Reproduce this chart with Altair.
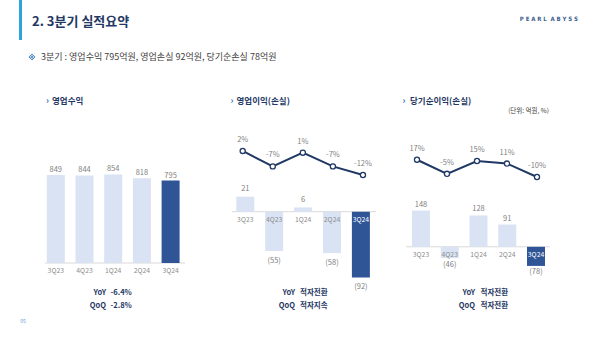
import altair as alt
import pandas as pd

# ---------------- data ----------------
quarters = ["3Q23", "4Q23", "1Q24", "2Q24", "3Q24"]
revenue = [849, 844, 854, 818, 795]
op_income = [21, -55, 6, -58, -92]
op_margin = [2, -7, 1, -7, -12]
net_income = [148, -46, 128, 91, -78]
net_margin = [17, -5, 15, 11, -10]

change_names = ["YoY", "QoQ"]
rev_change = ["-6.4%", "-2.8%"]
op_change = ["적자전환", "적자지속"]
net_change = ["적자전환", "적자전환"]

title_text = "2. 3분기 실적요약"
subtitle_text = "3분기 : 영업수익 795억원, 영업손실 92억원, 당기순손실 78억원"
panel_titles = ["영업수익", "영업이익(손실)", "당기순이익(손실)"]
unit_text = "(단위: 억원, %)"
brand_text = "P E A R L\u00a0\u00a0A B Y S S"
page_text = "05"

# ---------------- styles ----------------
KF = "Noto Sans CJK KR"
NAVY = "#1f3864"
LIGHT = "#dae3f3"
DARK = "#2f5597"
GRAY = "#7f7f7f"
XGRAY = "#8c8c8c"
HL = "3Q24"


def fmt(v):
    return f"({abs(v)})" if v < 0 else str(v)


def frame(values, margins=None):
    d = {"q": quarters, "v": values, "label": [fmt(v) for v in values]}
    if margins is not None:
        d["m"] = margins
        d["mlabel"] = [f"{m}%" for m in margins]
    return pd.DataFrame(d)


def band(rng):
    return alt.Scale(type="band", domain=quarters, range=rng, paddingInner=0, paddingOuter=0)


def lin(dom, rng):
    return alt.Scale(domain=dom, range=rng, nice=False, zero=False)


layers = []


def add_panel(values, margins, xb, ydom, yr, rule_x, pos_dy, neg_dy, xl=None, ldom=None, lr=None):
    df = frame(values, margins)
    X = alt.X("q:N", scale=band(xb), axis=None)
    Y = alt.Y("v:Q", scale=lin(ydom, yr), axis=None)
    base = alt.Chart(df)
    # baseline rule
    layers.append(
        alt.Chart(pd.DataFrame({"z": [0]})).mark_rule(color="#d9d9d9", strokeWidth=1).encode(
            y=alt.Y("z:Q", scale=lin(ydom, yr), axis=None),
            x=alt.value(rule_x[0]), x2=alt.value(rule_x[1]))
    )
    layers.append(
        base.mark_bar(size=18).encode(
            x=X, y=Y,
            color=alt.condition(alt.datum.q == HL, alt.value(DARK), alt.value(LIGHT)))
    )
    layers.append(
        base.transform_filter(alt.datum.v >= 0).mark_text(
            font=KF, fontSize=7.5, color=GRAY, baseline="middle", dy=-pos_dy).encode(
            x=X, y=Y, text="label:N")
    )
    layers.append(
        base.transform_filter(alt.datum.v < 0).mark_text(
            font=KF, fontSize=7.5, color=GRAY, baseline="middle", dy=neg_dy).encode(
            x=X, y=Y, text="label:N")
    )
    layers.append(
        base.transform_calculate(z="0").mark_text(
            font=KF, fontSize=6.8, baseline="middle", dy=8.2).encode(
            x=X,
            y=alt.Y("z:Q", scale=lin(ydom, yr), axis=None),
            text="q:N",
            color=alt.condition((alt.datum.q == HL) & (alt.datum.v < 0),
                                alt.value("white"), alt.value(XGRAY)))
    )
    if margins is not None:
        XL = alt.X("q:N", scale=band(xl), axis=None)
        YL = alt.Y("m:Q", scale=lin(ldom, lr), axis=None)
        layers.append(base.mark_line(color=NAVY, strokeWidth=2).encode(x=XL, y=YL))
        layers.append(
            base.mark_point(filled=True, fill="white", stroke=NAVY, strokeWidth=1.3,
                            size=26, opacity=1).encode(x=XL, y=YL)
        )
        layers.append(
            base.mark_text(font=KF, fontSize=7.5, color=GRAY, baseline="middle", dy=-11).encode(
                x=XL, y=YL, text="mlabel:N")
        )


add_panel(revenue, None, [41.45, 184.95], [0, 1000], [263, 159.3], (45, 185), 5, 5)
add_panel(op_income, op_margin, [230.85, 375.35], [-100, 100], [283.2, 140.2], (232, 376), 7.5, 9.5,
          xl=[227.66, 378.0], ldom=[-20, 20], lr=[188.7, 120.1])
add_panel(net_income, net_margin, [406.6, 550.4], [-200, 200], [295.8, 197.8], (406, 550), 6, 6.5,
          xl=[402, 552], ldom=[-20, 20], lr=[183.4, 157.8])


def text_layer(txt, x, y, **kw):
    return alt.Chart(pd.DataFrame({"t": [txt]})).mark_text(**kw).encode(
        x=alt.value(x), y=alt.value(y), text="t:N")


one = pd.DataFrame({"k": [0]})
# header
layers.append(alt.Chart(one).mark_rect(color="#2ea3dc").encode(
    x=alt.value(19), x2=alt.value(22), y=alt.value(0), y2=alt.value(40)))
layers.append(text_layer(title_text, 32, 22, font=KF, fontSize=13, fontWeight="bold",
                         color=NAVY, align="left", baseline="middle"))
layers.append(text_layer(brand_text, 578, 19, font="DejaVu Sans Condensed", fontSize=6,
                         fontWeight="bold", color="#3d5f8f", align="right", baseline="middle"))
layers.append(alt.Chart(one).mark_point(shape="diamond", filled=True, color="#2e75b6", size=45,
                                        opacity=1).encode(x=alt.value(32), y=alt.value(57)))
layers.append(alt.Chart(one).mark_point(shape="diamond", filled=False, color="white", size=12,
                                        strokeWidth=1, opacity=1).encode(x=alt.value(32), y=alt.value(57)))
layers.append(text_layer(subtitle_text, 41, 57, font=KF, fontSize=9, color="#404040",
                         align="left", baseline="middle"))

# panel titles
for title, ix, tx in zip(panel_titles, [47.5, 232, 404], [52, 236.5, 410]):
    layers.append(text_layer("›", ix, 101, font=KF, fontSize=9, fontWeight="bold",
                             color="#2e75b6", align="center", baseline="middle"))
    layers.append(text_layer(title, tx, 101, font=KF, fontSize=8.5, fontWeight="bold",
                             color=NAVY, align="left", baseline="middle"))
layers.append(text_layer(unit_text, 549, 111, font=KF, fontSize=6.5, color="#404040",
                         align="right", baseline="middle"))

# YoY / QoQ notes
for vals, lx, vx in zip([rev_change, op_change, net_change], [106, 295, 475], [110.5, 300, 480.5]):
    for name, val, yy in zip(change_names, vals, [292.7, 306]):
        layers.append(text_layer(name, lx, yy, font=KF, fontSize=7.5, fontWeight="bold",
                                 color=NAVY, align="right", baseline="middle"))
        layers.append(text_layer(val, vx, yy, font=KF, fontSize=7.5, fontWeight="bold",
                                 color=NAVY, align="left", baseline="middle"))

layers.append(text_layer(page_text, 23, 321, font=KF, fontSize=5, color="#5b9bd5",
                         align="center", baseline="middle"))

chart = alt.layer(*layers).resolve_scale(
    x="independent", y="independent", color="independent"
).properties(
    width=600, height=338, autosize="none", padding=0, background="white"
).configure_view(stroke=None)

chart.save("out.html", embed_options={"renderer": "svg", "actions": False})
